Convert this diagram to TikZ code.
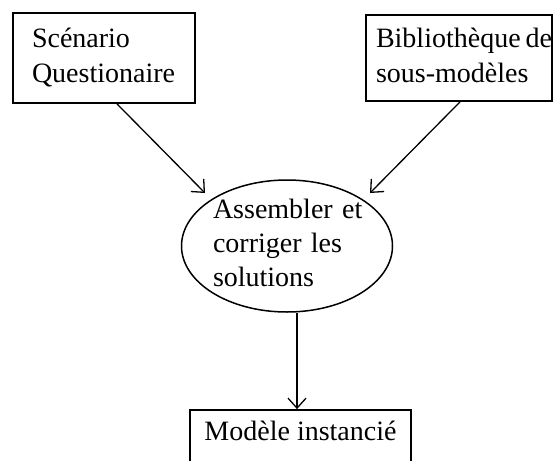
\documentclass[tikz,border=0pt]{standalone}
\usepackage{fontspec}
\setmainfont{Liberation Serif}
\usetikzlibrary{shapes.geometric,arrows.meta}

\tikzset{
  txt/.style={font=\fontsize{28pt}{35pt}\selectfont, align=left},
  boxnode/.style={txt, draw=black, line width=1.8pt, rectangle, inner sep=0pt},
  ovalnode/.style={draw=black, line width=1.5pt, ellipse, inner sep=0pt},
  arr/.style={draw=black, line width=1.3pt, -{Straight Barb[length=10pt,width=18pt]}}
}

\begin{document}
\begin{tikzpicture}[x=1pt,y=-1pt]
  \fill[white] (0,0) rectangle (553,460);
  \clip (0,0) rectangle (553,460);

  % input boxes
  \node[boxnode, text width=144pt, minimum width=182pt, minimum height=90pt]
    (scen) at (104,58) {\mbox{Scénario}\strut\\\mbox{Questionaire}\strut};
  \node[boxnode, text width=166pt, minimum width=186pt, minimum height=86pt]
    (bib) at (459,58) {\mbox{Bibliothèque\hspace{5pt}de}\strut\\\mbox{sous-modèles}\strut};

  % central process
  \node[ovalnode, minimum width=211pt, minimum height=132pt] (asm) at (287,246) {};
  \node[txt, text width=148pt, inner sep=0pt, font=\fontsize{28pt}{34pt}\selectfont]
    (asmtxt) at (asm.center) {\mbox{Assembler et}\strut\\\mbox{corriger les}\strut\\\mbox{solutions}\strut};

  % result box
  \node[boxnode, text height=30pt, text depth=40pt, minimum width=221pt]
    (inst) at (300.5,445) {Modèle instancié};

  % connectors
  \draw[arr] ([xshift=13pt]scen.south) -- ([shift={(-82pt,53pt)}]asm.center);
  \draw[arr] ([xshift=1pt]bib.south) -- ([shift={(83pt,53pt)}]asm.center);
  \draw[arr] ([xshift=10pt]asm.south) -- ([xshift=-3.5pt]inst.north);
\end{tikzpicture}
\end{document}
